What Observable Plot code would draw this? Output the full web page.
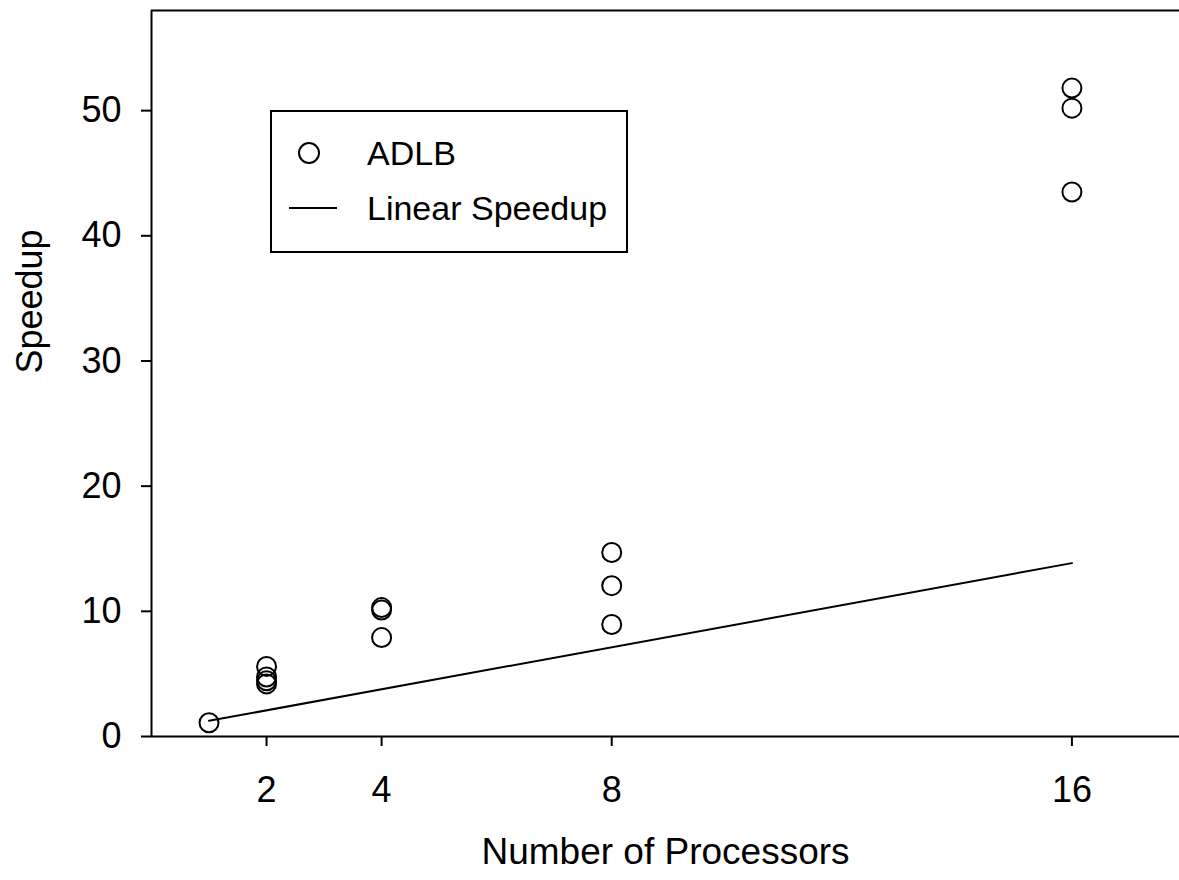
<!DOCTYPE html>
<html>
<head>
<meta charset="utf-8">
<script src="https://cdn.jsdelivr.net/npm/d3@7"></script>
<script src="https://cdn.jsdelivr.net/npm/@observablehq/plot@0.6"></script>
<style>
  html, body { margin: 0; padding: 0; background: #fff; overflow: hidden; }
  #wrap { position: relative; width: 1179px; height: 880px; }
  #legend { position: absolute; left: 270px; top: 110px; width: 354px; height: 139px;
    border: 2px solid #000; background: #fff; font-family: "Liberation Sans", Arial, sans-serif; }
  #legend svg { position: absolute; left: 0; top: 0; }
</style>
</head>
<body>
<div id="wrap"></div>
<script>
// Data
const processors = [1, 2, 2, 2, 2, 4, 4, 4, 8, 8, 8, 16, 16, 16];
const speedup    = [1.1, 5.6, 4.75, 4.45, 4.2, 10.3, 10.1, 7.9, 14.7, 12.05, 8.95, 51.8, 50.2, 43.5];
const linearX = [1, 16];
const linearY = [1.25, 13.85];
const xTicks = [2, 4, 8, 16];
const yTicks = [0, 10, 20, 30, 40, 50];
const seriesNames = ["ADLB", "Linear Speedup"];

const points = processors.map((p, i) => ({p, s: speedup[i]}));
const line = linearX.map((p, i) => ({p, s: linearY[i]}));

const font = '"Liberation Sans", Arial, sans-serif';

const chart = Plot.plot({
  width: 1179,
  height: 880,
  marginLeft: 151,
  marginTop: 10,
  marginBottom: 144,
  marginRight: 0,
  style: {fontFamily: font, background: "#fff", color: "#000"},
  x: {domain: [0, 17.87]},
  y: {domain: [0, 58]},
  marks: [
    Plot.axisY({ticks: yTicks, tickSize: 10, tickPadding: 20, fontSize: 36, label: null, strokeWidth: 2}),
    Plot.axisX({ticks: xTicks, tickSize: 10, tickPadding: 30, fontSize: 36, label: null, strokeWidth: 2}),
    Plot.ruleX([0], {stroke: "#000", strokeWidth: 2}),
    Plot.ruleY([0], {stroke: "#000", strokeWidth: 2}),
    Plot.ruleY([58], {stroke: "#000", strokeWidth: 2}),
    Plot.line(line, {x: "p", y: "s", stroke: "#000", strokeWidth: 2}),
    Plot.dot(points, {x: "p", y: "s", r: 9.5, stroke: "#000", strokeWidth: 2, fill: "none"}),
    Plot.text(["Speedup"], {frameAnchor: "left", dx: -121, rotate: -90, text: d => d, fontSize: 36, fill: "#000"}),
    Plot.text(["Number of Processors"], {frameAnchor: "bottom", dy: 116, lineAnchor: "middle", text: d => d, fontSize: 37, fill: "#000"})
  ]
});

const wrap = document.getElementById("wrap");
wrap.appendChild(chart);

// Legend (inside plot, as in the reference)
const legend = document.createElement("div");
legend.id = "legend";
const ns = "http://www.w3.org/2000/svg";
const lsvg = document.createElementNS(ns, "svg");
lsvg.setAttribute("width", 354);
lsvg.setAttribute("height", 139);
const c = document.createElementNS(ns, "circle");
c.setAttribute("cx", 37); c.setAttribute("cy", 41); c.setAttribute("r", 10);
c.setAttribute("fill", "none"); c.setAttribute("stroke", "#000"); c.setAttribute("stroke-width", 2);
lsvg.appendChild(c);
const l = document.createElementNS(ns, "line");
l.setAttribute("x1", 17); l.setAttribute("x2", 65); l.setAttribute("y1", 96); l.setAttribute("y2", 96);
l.setAttribute("stroke", "#000"); l.setAttribute("stroke-width", 2);
lsvg.appendChild(l);
[[seriesNames[0], 41], [seriesNames[1], 96]].forEach(([t, y]) => {
  const tx = document.createElementNS(ns, "text");
  tx.setAttribute("x", 95); tx.setAttribute("y", y);
  tx.setAttribute("dy", "0.35em");
  tx.setAttribute("font-size", 34);
  tx.setAttribute("font-family", font);
  tx.textContent = t;
  lsvg.appendChild(tx);
});
legend.appendChild(lsvg);
wrap.appendChild(legend);
</script>
</body>
</html>
